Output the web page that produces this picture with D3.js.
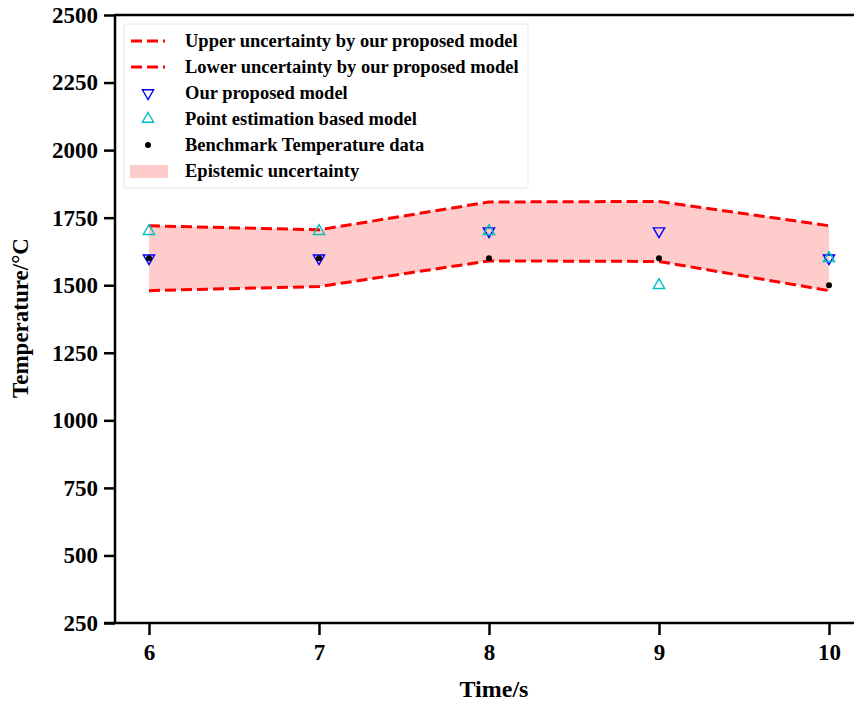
<!DOCTYPE html>
<html>
<head>
<meta charset="utf-8">
<script src="https://cdn.jsdelivr.net/npm/d3@7"></script>
<style>
  body { margin: 0; background: #fff; }
  text { font-family: "Liberation Serif", "Times New Roman", serif; font-weight: bold; }
</style>
</head>
<body>
<svg id="chart" width="854" height="702"></svg>
<script>
// data
const times = [6, 7, 8, 9, 10];
const upperBound = [1720, 1705, 1808, 1810, 1720];
const lowerBound = [1480, 1495, 1590, 1588, 1480];
const proposedModel = [1600, 1600, 1700, 1700, 1600];
const pointEstimation = [1700, 1700, 1700, 1500, 1600];
const benchmark = [1600, 1600, 1600, 1600, 1500];
const yTicks = [250, 500, 750, 1000, 1250, 1500, 1750, 2000, 2250, 2500];

function MakeChart() {
    const svg = d3.select("#chart");
    svg.selectAll("*").remove();

    const axisX = 115, axisY = 623, topY = 15, rightX = 854;

    const x = d3.scaleLinear().domain([6, 10]).range([149, 829]);
    const y = d3.scaleLinear().domain([250, 2500]).range([axisY, topY]);

    // band
    const band = times.map((t, i) => ({t, lo: lowerBound[i], hi: upperBound[i]}));
    svg.append("path").datum(band)
        .attr("fill", "#ffcccc")
        .attr("d", d3.area().x(d => x(d.t)).y0(d => y(d.lo)).y1(d => y(d.hi)));

    const line = d3.line().x(d => x(d.t)).y(d => y(d.v));
    [upperBound, lowerBound].forEach(arr => {
        svg.append("path")
            .datum(times.map((t, i) => ({t, v: arr[i]})))
            .attr("fill", "none")
            .attr("stroke", "#ff0000")
            .attr("stroke-width", 3)
            .attr("stroke-dasharray", "11,5")
            .attr("d", line);
    });

    // markers
    const tri = d3.symbol().type(d3.symbolTriangle).size(55);
    svg.selectAll(".down").data(times).join("path")
        .attr("d", tri)
        .attr("transform", (d, i) => `translate(${x(d)},${y(proposedModel[i])}) rotate(180)`)
        .attr("fill", "none").attr("stroke", "#0000ff").attr("stroke-width", 1.4);
    svg.selectAll(".up").data(times).join("path")
        .attr("d", tri)
        .attr("transform", (d, i) => `translate(${x(d)},${y(pointEstimation[i])})`)
        .attr("fill", "none").attr("stroke", "#00bfbf").attr("stroke-width", 1.4);
    svg.selectAll(".dot").data(times).join("circle")
        .attr("cx", d => x(d))
        .attr("cy", (d, i) => y(benchmark[i]))
        .attr("r", 3)
        .attr("fill", "#000");

    // frame
    svg.append("line").attr("x1", axisX).attr("x2", rightX).attr("y1", topY).attr("y2", topY)
        .attr("stroke", "#000").attr("stroke-width", 2.5);
    svg.append("line").attr("x1", axisX).attr("x2", axisX).attr("y1", topY - 1).attr("y2", axisY)
        .attr("stroke", "#000").attr("stroke-width", 2.5);
    svg.append("line").attr("x1", 104).attr("x2", rightX).attr("y1", axisY).attr("y2", axisY)
        .attr("stroke", "#000").attr("stroke-width", 2.5);

    // y ticks
    const yAxis = svg.append("g").attr("transform", `translate(${axisX},0)`)
        .call(d3.axisLeft(y).tickValues(yTicks).tickSize(11).tickPadding(6).tickFormat(d3.format("d")));
    yAxis.select(".domain").remove();
    yAxis.selectAll("line").attr("stroke-width", 2.5);
    yAxis.selectAll("text").attr("font-size", 23).attr("fill", "#000")
        .style("font-family", "'Liberation Serif', serif").style("font-weight", "bold");

    // x ticks
    const xAxis = svg.append("g").attr("transform", `translate(0,${axisY})`)
        .call(d3.axisBottom(x).tickValues(times).tickSize(12).tickPadding(9).tickFormat(d3.format("d")));
    xAxis.select(".domain").remove();
    xAxis.selectAll("line").attr("stroke-width", 2.5);
    xAxis.selectAll("text").attr("font-size", 23).attr("fill", "#000")
        .style("font-family", "'Liberation Serif', serif").style("font-weight", "bold");

    // axis labels
    svg.append("text")
        .attr("x", 494).attr("y", 697)
        .attr("text-anchor", "middle")
        .attr("font-size", 24)
        .text("Time/s");
    svg.append("text")
        .attr("transform", "translate(28,318) rotate(-90)")
        .attr("text-anchor", "middle")
        .attr("font-size", 23)
        .text("Temperature/°C");

    // legend
    const legend = svg.append("g").attr("transform", "translate(124,24)");
    legend.append("rect")
        .attr("width", 404).attr("height", 164).attr("rx", 2)
        .attr("fill", "#fff").attr("stroke", "#e6e6e6").attr("stroke-width", 1);
    const items = [
        {label: "Upper uncertainty by our proposed model", kind: "dash"},
        {label: "Lower uncertainty by our proposed model", kind: "dash"},
        {label: "Our proposed model", kind: "down"},
        {label: "Point estimation based model", kind: "up"},
        {label: "Benchmark Temperature data", kind: "dot"},
        {label: "Epistemic uncertainty", kind: "fill"}
    ];
    items.forEach((it, i) => {
        const cy = 17 + i * 26;
        const row = legend.append("g").attr("transform", `translate(0,${cy})`);
        if (it.kind === "dash") {
            row.append("line").attr("x1", 7).attr("x2", 41).attr("y1", 0).attr("y2", 0)
                .attr("stroke", "#ff0000").attr("stroke-width", 3).attr("stroke-dasharray", "11,5");
        } else if (it.kind === "down") {
            row.append("path").attr("d", tri).attr("transform", "translate(24,0) rotate(180)")
                .attr("fill", "none").attr("stroke", "#0000ff").attr("stroke-width", 1.4);
        } else if (it.kind === "up") {
            row.append("path").attr("d", tri).attr("transform", "translate(24,0)")
                .attr("fill", "none").attr("stroke", "#00bfbf").attr("stroke-width", 1.4);
        } else if (it.kind === "dot") {
            row.append("circle").attr("cx", 24).attr("cy", 0).attr("r", 3).attr("fill", "#000");
        } else {
            row.append("rect").attr("x", 6).attr("y", -6).attr("width", 38).attr("height", 13)
                .attr("fill", "#ffcccc");
        }
        row.append("text").attr("x", 61).attr("y", 6)
            .attr("font-size", 18.5)
            .text(it.label);
    });
}

MakeChart();
</script>
</body>
</html>
